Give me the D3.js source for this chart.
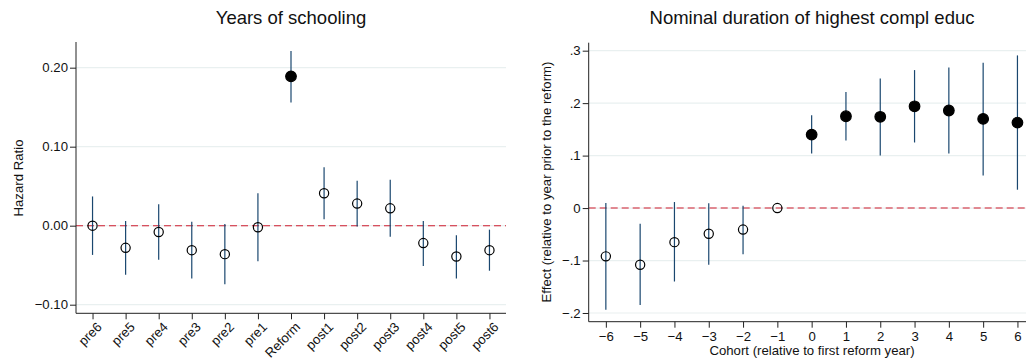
<!DOCTYPE html>
<html>
<head>
<meta charset="utf-8">
<script src="https://cdn.jsdelivr.net/npm/d3@7"></script>
<style>
  body { margin: 0; background: #fff; }
  svg { display: block; font-family: "Liberation Sans", Arial, sans-serif; }
</style>
</head>
<body>
<svg id="chart" width="1026" height="363"></svg>
<script>
// left panel: years of schooling
var leftCats = ["pre6", "pre5", "pre4", "pre3", "pre2", "pre1", "Reform", "post1", "post2", "post3", "post4", "post5", "post6"];
var leftEst = [0.000, -0.028, -0.008, -0.031, -0.036, -0.002, 0.189, 0.041, 0.028, 0.022, -0.022, -0.039, -0.031];
var leftLo = [-0.037, -0.062, -0.043, -0.067, -0.074, -0.045, 0.156, 0.008, -0.001, -0.014, -0.051, -0.067, -0.057];
var leftHi = [0.037, 0.006, 0.027, 0.005, 0.002, 0.041, 0.221, 0.074, 0.057, 0.058, 0.006, -0.012, -0.005];
var leftFilled = [0, 0, 0, 0, 0, 0, 1, 0, 0, 0, 0, 0, 0];
var leftTicks = [-0.1, 0, 0.1, 0.2];

// right panel: nominal duration
var rightCohort = [-6, -5, -4, -3, -2, -1, 0, 1, 2, 3, 4, 5, 6];
var rightEst = [-0.092, -0.108, -0.065, -0.049, -0.041, 0, 0.140, 0.175, 0.174, 0.194, 0.186, 0.170, 0.163];
var rightLo = [-0.194, -0.185, -0.140, -0.108, -0.088, null, 0.104, 0.129, 0.100, 0.125, 0.104, 0.062, 0.035];
var rightHi = [0.0095, -0.030, 0.0115, 0.009, 0.0045, null, 0.177, 0.221, 0.247, 0.263, 0.268, 0.277, 0.291];
var rightFilled = [0, 0, 0, 0, 0, 0, 1, 1, 1, 1, 1, 1, 1];
var rightTicks = [-0.2, -0.1, 0, 0.1, 0.2, 0.3];

var svg = d3.select("#chart");
var ciColor = "#1a476f";
var gridColor = "#e9f0f0";
var refColor = "#d01c2f";
var labelSize = "13.2px";

function rows(xs, est, lo, hi, filled) {
  return xs.map(function (x, i) {
    return { x: x, est: est[i], lo: lo[i], hi: hi[i], filled: filled[i] };
  });
}

function panel(opt) {
  var g = svg.append("g");
  var x = opt.x, y = opt.y;
  var x0 = opt.xr[0], x1 = opt.xr[1];

  // gridlines
  g.append("g").selectAll("line").data(opt.ticks).enter().append("line")
    .attr("x1", x0).attr("x2", x1)
    .attr("y1", function (d) { return y(d); }).attr("y2", function (d) { return y(d); })
    .attr("stroke", gridColor).attr("stroke-width", 1.2);

  // reference line at zero
  g.append("line")
    .attr("x1", x0).attr("x2", x1).attr("y1", y(0)).attr("y2", y(0))
    .attr("stroke", refColor).attr("stroke-width", 1.1)
    .attr("stroke-dasharray", "7,4");

  // y axis
  var ya = g.append("g").attr("transform", "translate(" + x0 + ",0)")
    .call(d3.axisLeft(y).tickValues(opt.ticks).tickFormat(opt.fmt).tickSize(6).tickSizeOuter(0));
  ya.select(".domain").attr("d", "M0," + y.range()[0] + "V" + y.range()[1]);

  // x axis
  var yb = y.range()[0];
  var xa = g.append("g").attr("transform", "translate(0," + yb + ")")
    .call(d3.axisBottom(x).tickSize(6).tickSizeOuter(0).tickValues(opt.xticks));
  xa.select(".domain").attr("d", "M" + x0 + ",0H" + x1);

  g.selectAll(".tick text").attr("fill", "#111").style("font-size", labelSize);
  g.selectAll(".tick line, .domain").attr("stroke", "#222");
  ya.selectAll(".tick text").attr("x", -8);
  if (opt.rotate) {
    xa.selectAll(".tick text")
      .attr("text-anchor", "end")
      .attr("transform", "translate(3,8) rotate(-45)")
      .attr("x", 0).attr("y", 0).attr("dy", "0.7em");
  } else {
    xa.selectAll(".tick text").attr("y", 10);
  }

  var data = rows(opt.xs, opt.est, opt.lo, opt.hi, opt.filled);

  // confidence intervals
  g.append("g").selectAll("line").data(data.filter(function (d) { return d.lo != null; }))
    .enter().append("line")
    .attr("x1", function (d) { return x(d.x); }).attr("x2", function (d) { return x(d.x); })
    .attr("y1", function (d) { return y(d.lo); }).attr("y2", function (d) { return y(d.hi); })
    .attr("stroke", ciColor).attr("stroke-width", 1.2);

  // point estimates
  g.append("g").selectAll("circle").data(data).enter().append("circle")
    .attr("cx", function (d) { return x(d.x); })
    .attr("cy", function (d) { return y(d.est); })
    .attr("r", function (d) { return d.filled ? 5.3 : 4.6; })
    .attr("fill", function (d) { return d.filled ? "#000" : "none"; })
    .attr("stroke", "#000").attr("stroke-width", 1.2);

  // title and labels
  svg.append("text").attr("x", opt.tx).attr("y", 24)
    .attr("text-anchor", "middle").style("font-size", "18.5px").attr("fill", "#111")
    .text(opt.title);
  svg.append("text").attr("transform", "translate(" + opt.ylx + "," + opt.yly + ") rotate(-90)")
    .attr("text-anchor", "middle").style("font-size", labelSize).attr("fill", "#111")
    .text(opt.ylab);
  if (opt.xlab) {
    svg.append("text").attr("x", opt.tx).attr("y", 355)
      .attr("text-anchor", "middle").style("font-size", labelSize).attr("fill", "#111")
      .text(opt.xlab);
  }
}

var xL = d3.scalePoint().domain(leftCats).range([76, 506]).padding(0.5);
var yL = d3.scaleLinear().domain([-0.1109, 0.2325]).range([313.3, 42]);
panel({
  x: xL, y: yL, xr: [76, 506], xs: leftCats, xticks: leftCats,
  est: leftEst, lo: leftLo, hi: leftHi, filled: leftFilled,
  ticks: leftTicks, fmt: d3.format(".2f"), rotate: true,
  title: "Years of schooling", tx: 291, ylab: "Hazard Ratio", ylx: 22.5, yly: 178
});

var xR = d3.scaleLinear().domain([-6.5, 6.5]).range([588.7, 1034.6]);
var yR = d3.scaleLinear().domain([-0.2166, 0.3152]).range([321.7, 42.7]);
panel({
  x: xR, y: yR, xr: [588.7, 1034.6], xs: rightCohort, xticks: rightCohort,
  est: rightEst, lo: rightLo, hi: rightHi, filled: rightFilled,
  ticks: rightTicks,
  fmt: function (d) { return d === 0 ? "0" : d3.format(".1f")(d).replace("0.", "."); },
  title: "Nominal duration of highest compl educ", tx: 812,
  ylab: "Effect (relative to year prior to the reform)", ylx: 551, yly: 182,
  xlab: "Cohort (relative to first reform year)"
});
</script>
</body>
</html>
